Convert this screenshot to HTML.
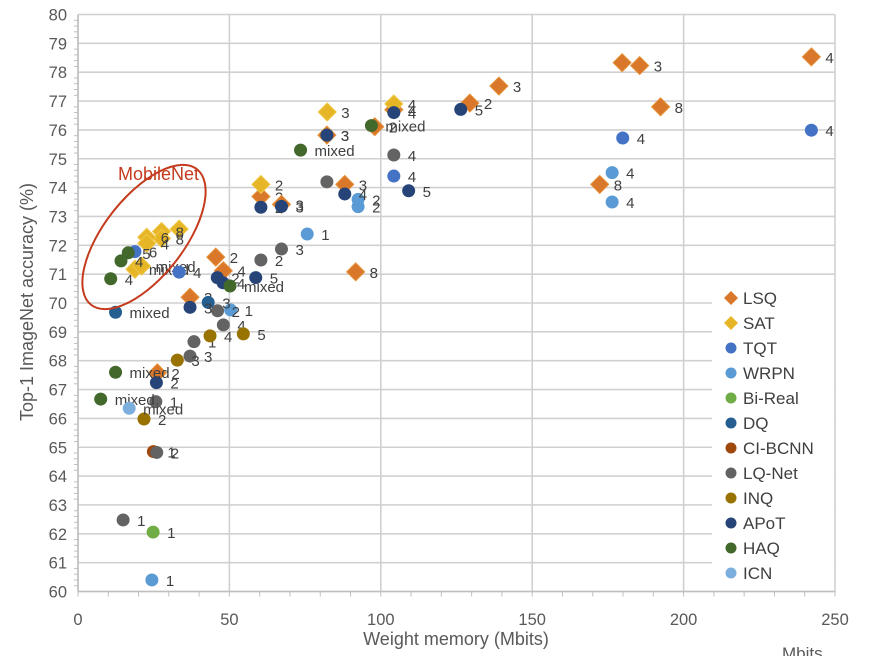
<!DOCTYPE html>
<html><head><meta charset="utf-8"><style>
html,body{margin:0;padding:0;background:#fff;width:881px;height:656px;overflow:hidden}
svg text{font-family:"Liberation Sans",Arial,sans-serif}
</style></head><body>
<svg id="chart" width="881" height="656" viewBox="0 0 881 656" xmlns="http://www.w3.org/2000/svg">
<g id="grid"></g>
<g id="axes"></g>
<g id="marks"></g>
<text x="118" y="180" font-size="18" fill="#C43B1D">MobileNet</text>
<ellipse cx="144" cy="237" rx="86" ry="40" transform="rotate(-52 144 237)" fill="none" stroke="#C43B1D" stroke-width="2"/>
<g id="legend"></g>
<text x="0" y="0" font-size="18" fill="#595959" text-anchor="middle" transform="translate(33,302) rotate(-90)">Top-1 ImageNet accuracy (%)</text>
<text x="456" y="645" font-size="18" fill="#595959" text-anchor="middle">Weight memory (Mbits)</text>
<text x="782" y="659" font-size="17" fill="#595959">Mbits</text>
</svg>
<script>
const xTicks=[0,50,100,150,200,250];
const yTicks=[60,61,62,63,64,65,66,67,68,69,70,71,72,73,74,75,76,77,78,79,80];
const lsqX=[242.2,179.7,185.5,192.4,139.0,129.4,172.3,91.7,98.0,82.2,88.1,60.4,67.2,104.3,45.5,48.0,37.0,26.2];
const lsqY=[78.53,78.33,78.23,76.8,77.52,76.93,74.11,71.08,76.11,75.82,74.11,73.69,73.42,76.7,71.59,71.12,70.2,67.58];
const lsqL=["4","4","3","8","3","2","8","8","2","3","3","2","3","4","2","4","3","2"];
const satX=[104.3,82.3,60.4,33.4,27.6,27.6,22.7,22.7,18.8,21.0];
const satY=[76.9,76.62,74.11,72.56,72.48,72.24,72.28,72.07,71.17,71.28];
const satL=["4","3","2","","8","8","6","4","mixed","mixed"];
const tqtX=[242.2,179.9,104.3,33.4,18.8];
const tqtY=[75.99,75.72,74.4,71.07,71.78];
const tqtL=["4","4","4","4","6"];
const wrpnX=[176.4,176.4,92.5,92.5,75.7,50.4,24.4];
const wrpnY=[74.52,73.5,73.59,73.34,72.39,69.76,60.4];
const wrpnL=["4","4","2","2","1","1","1"];
const birealX=[24.8];
const birealY=[62.06];
const birealL=["1"];
const dqX=[12.4,43.0];
const dqY=[69.68,70.02];
const dqL=["mixed","3"];
const cibcnnX=[24.9];
const cibcnnY=[64.85];
const cibcnnL=["1"];
const lqX=[104.3,82.2,67.2,60.4,46.1,48.0,38.3,37.0,25.7,26.0,14.9];
const lqY=[75.13,74.2,71.87,71.49,69.73,69.24,68.66,68.16,66.58,64.82,62.48];
const lqL=["4","","3","2","2","4","1","3","1","2","1"];
const inqX=[43.6,54.6,32.8,21.8];
const inqY=[68.86,68.93,68.02,65.98];
const inqL=["4","5","3","2"];
const apotX=[104.3,126.4,82.2,109.2,88.1,60.4,67.2,58.7,46.0,47.9,37.0,25.9];
const apotY=[76.6,76.71,75.82,73.89,73.78,73.32,73.35,70.88,70.88,70.7,69.85,67.24];
const apotL=["4","5","3","5","4","2","3","5","2","4","3","2"];
const haqX=[96.9,73.5,50.2,10.8,14.2,16.6,12.4,7.5];
const haqY=[76.15,75.3,70.59,70.84,71.46,71.74,67.6,66.67];
const haqL=["mixed","mixed","mixed","4","4","5","mixed","mixed"];
const icnX=[16.9];
const icnY=[66.35];
const icnL=["mixed"];

const NS="http://www.w3.org/2000/svg";
const X0=78,X1=835,Y0=591.5,Y1=14.5;
function sx(v){return X0+(v-0)/(250-0)*(X1-X0);}
function sy(v){return Y0-(v-60)/(80-60)*(Y0-Y1);}
function mk(tag,attrs,parent){const e=document.createElementNS(NS,tag);for(const k in attrs)e.setAttribute(k,attrs[k]);parent.appendChild(e);return e;}
const grid=document.getElementById('grid'),axes=document.getElementById('axes'),marks=document.getElementById('marks'),legend=document.getElementById('legend');
yTicks.forEach(t=>{
  const l=mk('line',{x1:X0,x2:X1,y1:sy(t),y2:sy(t),stroke:'#d0d0d0','stroke-width':1.6},grid);
  
  
  const tx=mk('text',{x:X0-11,y:sy(t)+6,'font-size':16.5,fill:'#595959','text-anchor':'end'},axes);
  tx.textContent=t;
  
  
  for(let k=1;k<5&&t<80;k++){mk('line',{x1:X0-4,x2:X0,y1:sy(t+k*0.2),y2:sy(t+k*0.2),stroke:'#bfbfbf'},axes);}
});
xTicks.forEach(t=>{
  const l=mk('line',{x1:sx(t),x2:sx(t),y1:Y1,y2:Y0,stroke:'#d0d0d0','stroke-width':1.6},grid);
  
  
  const tx=mk('text',{x:sx(t),y:625,'font-size':16.5,fill:'#595959','text-anchor':'middle'},axes);
  tx.textContent=t;
  
  
});
for(let v=0;v<=250;v+=10){mk('line',{x1:sx(v),x2:sx(v),y1:Y0,y2:Y0+5,stroke:'#bfbfbf'},axes);}
mk('line',{x1:X0,x2:X1,y1:Y0,y2:Y0,stroke:'#bfbfbf','stroke-width':1.5},axes);
mk('line',{x1:X0,x2:X0,y1:Y1,y2:Y0,stroke:'#bfbfbf','stroke-width':1.5},axes);

const series=[
 ['LSQ',lsqX,lsqY,lsqL,'#D9782B','d'],['SAT',satX,satY,satL,'#E6B626','d'],
 ['TQT',tqtX,tqtY,tqtL,'#4472C4','c'],['WRPN',wrpnX,wrpnY,wrpnL,'#5B9BD5','c'],
 ['Bi-Real',birealX,birealY,birealL,'#70AD47','c'],['DQ',dqX,dqY,dqL,'#255E91','c'],
 ['CI-BCNN',cibcnnX,cibcnnY,cibcnnL,'#9E480E','c'],['LQ-Net',lqX,lqY,lqL,'#636363','c'],
 ['INQ',inqX,inqY,inqL,'#997300','c'],['APoT',apotX,apotY,apotL,'#264478','c'],
 ['HAQ',haqX,haqY,haqL,'#43682B','c'],['ICN',icnX,icnY,icnL,'#7CAFDD','c']];
mk('rect',{x:712,y:282,width:122,height:306,fill:'#fff'},legend);
series.forEach((s,i)=>{
  const [name,xs,ys,ls,col,shape]=s;
  const g=mk('g',{},marks);
  
  
  xs.forEach((xv,j)=>{
    const px=sx(xv),py=sy(ys[j]);
    let e;
    if(shape==='d'){e=mk('polygon',{points:`${px},${py-9} ${px+9},${py} ${px},${py+9} ${px-9},${py}`,fill:col,stroke:name==='LSQ'?'#E69138':'#F0C84A','stroke-width':1},g);}
    else{e=mk('circle',{cx:px,cy:py,r:6.5,fill:col},g);}
    
    
    if(ls[j]){const t=mk('text',{x:px+14,y:py+6,'font-size':15,fill:'#404040'},g);t.textContent=ls[j];
      
      }
  });
  const ly=298+i*25;
  const le=mk('g',{},legend);
  
  
  if(shape==='d')mk('polygon',{points:`731,${ly-7} 738,${ly} 731,${ly+7} 724,${ly}`,fill:col},le);
  else mk('circle',{cx:731,cy:ly,r:5.5,fill:col},le);
  const t=mk('text',{x:743,y:ly+6,'font-size':17,fill:'#404040'},le);t.textContent=name;
});
</script>
</body></html>
